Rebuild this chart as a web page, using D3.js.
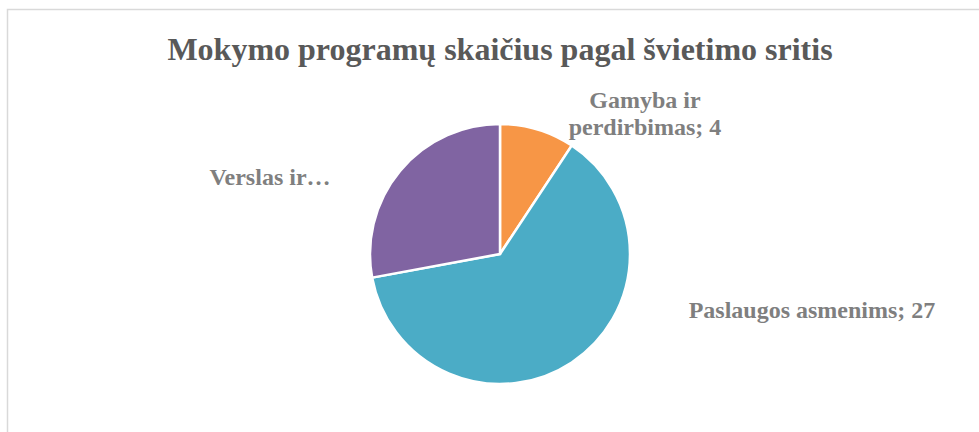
<!DOCTYPE html>
<html>
<head>
<meta charset="utf-8">
<script src="https://cdn.jsdelivr.net/npm/d3@7"></script>
<style>
  body { margin: 0; background: #fff; }
  svg text { font-family: "Liberation Serif", "Times New Roman", serif; font-weight: bold; }
</style>
</head>
<body>
<div id="chart"></div>
<script>
// chart data
var categories = ["Gamyba ir perdirbimas", "Paslaugos asmenims", "Verslas ir administravimas"];
var values = [4, 27, 12];
var labelLines = [["Gamyba ir", "perdirbimas; 4"], ["Paslaugos asmenims; 27"], ["Verslas ir…"]];
var colors = ["#f79646", "#4bacc6", "#8064a2"];

var width = 979;
var height = 432;

var svg = d3.select('#chart')
    .append('svg')
    .attr("width", width)
    .attr("height", height);

// chart frame
svg.append('rect')
    .attr('x', 7.5)
    .attr('y', 9.5)
    .attr('width', 1000)
    .attr('height', 500)
    .attr('fill', 'none')
    .attr('stroke', '#d9d9d9')
    .attr('stroke-width', 1.5);

svg.append('text')
    .attr('x', 500)
    .attr('y', 60)
    .attr('text-anchor', 'middle')
    .attr('fill', '#595959')
    .style('font-size', '32px')
    .text('Mokymo programų skaičius pagal švietimo sritis');

var cx = 500, cy = 254, radius = 130;

var pie = d3.pie().sort(null).value(d => d);
var arc = d3.arc().innerRadius(0).outerRadius(radius);

var slices = pie(values);

var g = svg.append('g')
    .attr('transform', `translate(${cx},${cy})`);

g.selectAll('path')
    .data(slices)
    .enter()
    .append('path')
    .attr('d', arc)
    .attr('fill', (d, i) => colors[i])
    .attr('stroke', '#fff')
    .attr('stroke-width', 2.5);

// label anchor positions (centre x, first baseline y)
var labelPos = [[645, 108], [812, 318], [270, 185]];

svg.selectAll('text.lbl')
    .data(labelLines)
    .enter()
    .append('text')
    .attr('class', 'lbl')
    .attr('text-anchor', 'middle')
    .attr('fill', '#7f7f7f')
    .style('font-size', '24px')
    .each(function (lines, i) {
        d3.select(this).selectAll('tspan')
            .data(lines)
            .enter()
            .append('tspan')
            .attr('x', labelPos[i][0])
            .attr('y', (l, j) => labelPos[i][1] + j * 27)
            .text(l => l);
    });
</script>
</body>
</html>
